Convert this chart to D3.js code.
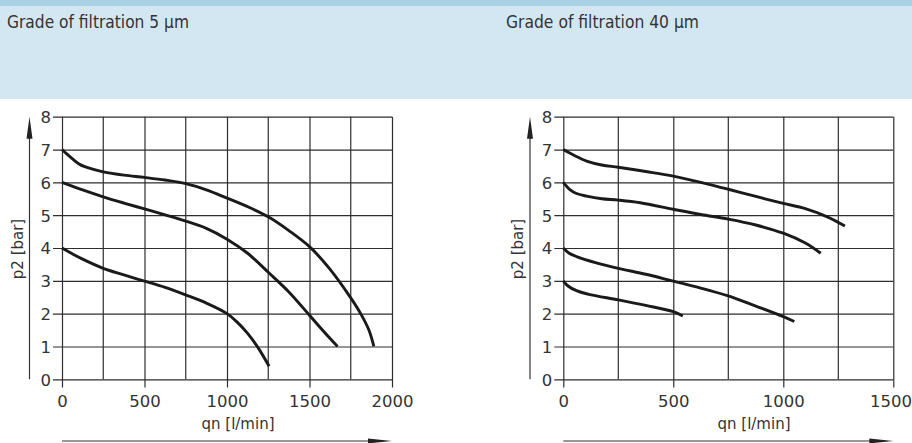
<!DOCTYPE html>
<html>
<head>
<meta charset="utf-8">
<script src="https://cdn.jsdelivr.net/npm/d3@7"></script>
<style>
  html, body { margin: 0; padding: 0; background: #fff; }
  svg { display: block; }
  .tick text { font-family: "DejaVu Sans", sans-serif; font-size: 16.5px; fill: #333; }
  .ttl { font-family: "Liberation Sans Narrow", "DejaVu Sans Condensed", "Liberation Sans", sans-serif; font-size: 18px; fill: #333; }
  .lbl { font-family: "DejaVu Sans", sans-serif; font-size: 15px; fill: #333; }
</style>
</head>
<body>
<svg id="chart" width="912" height="443"></svg>
<script>
// Flow characteristics: outlet pressure p2 [bar] vs. flow qn [l/min]
const yTicks = [0, 1, 2, 3, 4, 5, 6, 7, 8];

// Filter element 5 µm
const leftTitle = "Grade of filtration 5 µm";
const leftTicks = [0, 500, 1000, 1500, 2000];
const leftMinor = [250, 750, 1250, 1750];
const left7 = [[0,7],[30,6.86],[60,6.73],[110,6.54],[180,6.41],[250,6.32],[375,6.22],[500,6.15],[625,6.07],[750,5.96],[875,5.77],[1000,5.52],[1125,5.26],[1250,4.95],[1375,4.53],[1500,4.04],[1625,3.35],[1750,2.48],[1810,2.0],[1860,1.5],[1890,1.0]];
const left6 = [[0,6],[125,5.77],[250,5.56],[375,5.37],[500,5.19],[625,5.01],[750,4.82],[875,4.6],[1000,4.27],[1125,3.84],[1250,3.26],[1375,2.66],[1500,1.95],[1600,1.38],[1670,1.0]];
const left4 = [[0,4],[60,3.83],[125,3.66],[250,3.38],[375,3.18],[500,2.99],[625,2.8],[750,2.57],[875,2.32],[1000,2.0],[1060,1.75],[1125,1.4],[1190,0.95],[1255,0.4]];

// Filter element 40 µm
const rightTitle = "Grade of filtration 40 µm";
const rightTicks = [0, 500, 1000, 1500];
const rightMinor = [250, 750, 1250];
const right7 = [[0,7],[50,6.82],[106,6.65],[175,6.53],[250,6.46],[375,6.33],[500,6.19],[625,6.0],[750,5.79],[875,5.57],[1000,5.36],[1100,5.2],[1200,4.95],[1280,4.67]];
const right6 = [[0,6],[30,5.78],[60,5.66],[106,5.58],[175,5.5],[250,5.46],[350,5.38],[500,5.18],[625,5.02],[750,4.88],[875,4.7],[1000,4.45],[1100,4.15],[1170,3.84]];
const right4 = [[0,4],[25,3.85],[60,3.74],[150,3.55],[250,3.38],[375,3.2],[500,2.99],[625,2.78],[750,2.54],[875,2.23],[1000,1.91],[1050,1.76]];
const right3 = [[0,3],[20,2.85],[60,2.7],[121,2.58],[250,2.42],[375,2.25],[500,2.06],[543,1.93]];

const W = 912;
const svg = d3.select("#chart");

// header bands
svg.append("rect").attr("x", 0).attr("y", 0).attr("width", W).attr("height", 6).attr("fill", "#a9d1e5");
svg.append("rect").attr("x", 0).attr("y", 6).attr("width", W).attr("height", 93).attr("fill", "#d3e7f2");

const y = d3.scaleLinear().domain([0, 8]).range([379.3, 116.7]);
const gridColor = "#2e2e2e";

function panel(cfg) {
  const x = d3.scaleLinear().domain(cfg.domain).range(cfg.range);
  const g = svg.append("g");
  const x0 = cfg.range[0], x1 = cfg.range[1];

  svg.append("text").attr("class", "ttl")
    .attr("x", cfg.titleX).attr("y", 28)
    .attr("textLength", cfg.titleLen).attr("lengthAdjust", "spacingAndGlyphs")
    .text(cfg.title);

  // horizontal grid + y labels
  const ya = d3.axisLeft(y).tickValues(yTicks).tickSize(-(x1 - x0 + 9)).tickPadding(2).tickFormat(d3.format("d"));
  const yg = g.append("g").attr("transform", `translate(${x0 - 9},0)`).call(ya);
  yg.select(".domain").remove();
  yg.selectAll(".tick line").attr("stroke", gridColor).attr("stroke-width", 1.2);
  yg.selectAll(".tick text").attr("dy", "0.36em");

  // minor vertical grid
  g.selectAll(".minor").data(cfg.minor).join("line")
    .attr("x1", d => x(d)).attr("x2", d => x(d))
    .attr("y1", y(8)).attr("y2", y(0))
    .attr("stroke", gridColor).attr("stroke-width", 1.2);

  // major vertical grid + x labels
  const xa = d3.axisBottom(x).tickValues(cfg.ticks).tickSize(-(387.5 - y(8))).tickPadding(7.6).tickFormat(d3.format("d"));
  const xg = g.append("g").attr("transform", "translate(0,387.5)").call(xa);
  xg.select(".domain").remove();
  xg.selectAll(".tick line").attr("stroke", gridColor).attr("stroke-width", 1.2);
  // keep the outermost label inside the page edge
  xg.selectAll(".tick text").each(function(d) {
    const bb = this.getBBox();
    const right = x(d) + bb.x + bb.width;
    if (right > W - 0.5) d3.select(this).attr("x", W - 0.5 - right);
  });

  // axis arrows
  const ax = cfg.yArrowX;
  g.append("line").attr("x1", ax).attr("x2", ax).attr("y1", 130).attr("y2", y(0))
    .attr("stroke", "#333").attr("stroke-width", 1.2);
  g.append("path").attr("d", `M${ax},${y(8)} L${ax - 3},${y(8) + 22} L${ax + 3},${y(8) + 22} Z`).attr("fill", "#222");
  g.append("line").attr("x1", x0).attr("x2", x1 - 12).attr("y1", 441).attr("y2", 441)
    .attr("stroke", "#333").attr("stroke-width", 1.2);
  g.append("path").attr("d", `M${x1},441 L${x1 - 24},438.6 L${x1 - 24},443.4 Z`).attr("fill", "#222");

  // axis titles
  g.append("text").attr("class", "lbl").attr("text-anchor", "middle")
    .attr("transform", `translate(${ax - 7},${cfg.yLabelY}) rotate(-90)`)
    .text("p2 [bar]");
  g.append("text").attr("class", "lbl").attr("text-anchor", "middle")
    .attr("x", cfg.xLabelX).attr("y", 429.3)
    .text("qn [l/min]");

  // curves
  const line = d3.line().x(d => x(d[0])).y(d => y(d[1])).curve(d3.curveCatmullRom.alpha(0.5));
  g.selectAll(".curve").data(cfg.series).join("path")
    .attr("d", line).attr("fill", "none")
    .attr("stroke", "#1a1a1a").attr("stroke-width", 2.9)
    .attr("stroke-linecap", "butt").attr("stroke-linejoin", "round");
}

panel({ title: leftTitle, titleX: 7, titleLen: 182, domain: [0, 2000], range: [62, 392],
  ticks: leftTicks, minor: leftMinor, yArrowX: 29.5, yLabelY: 249, xLabelX: 238,
  series: [left7, left6, left4] });
panel({ title: rightTitle, titleX: 506, titleLen: 193, domain: [0, 1500], range: [563.3, 893.3],
  ticks: rightTicks, minor: rightMinor, yArrowX: 530, yLabelY: 249, xLabelX: 754,
  series: [right7, right6, right4, right3] });
</script>
</body>
</html>
